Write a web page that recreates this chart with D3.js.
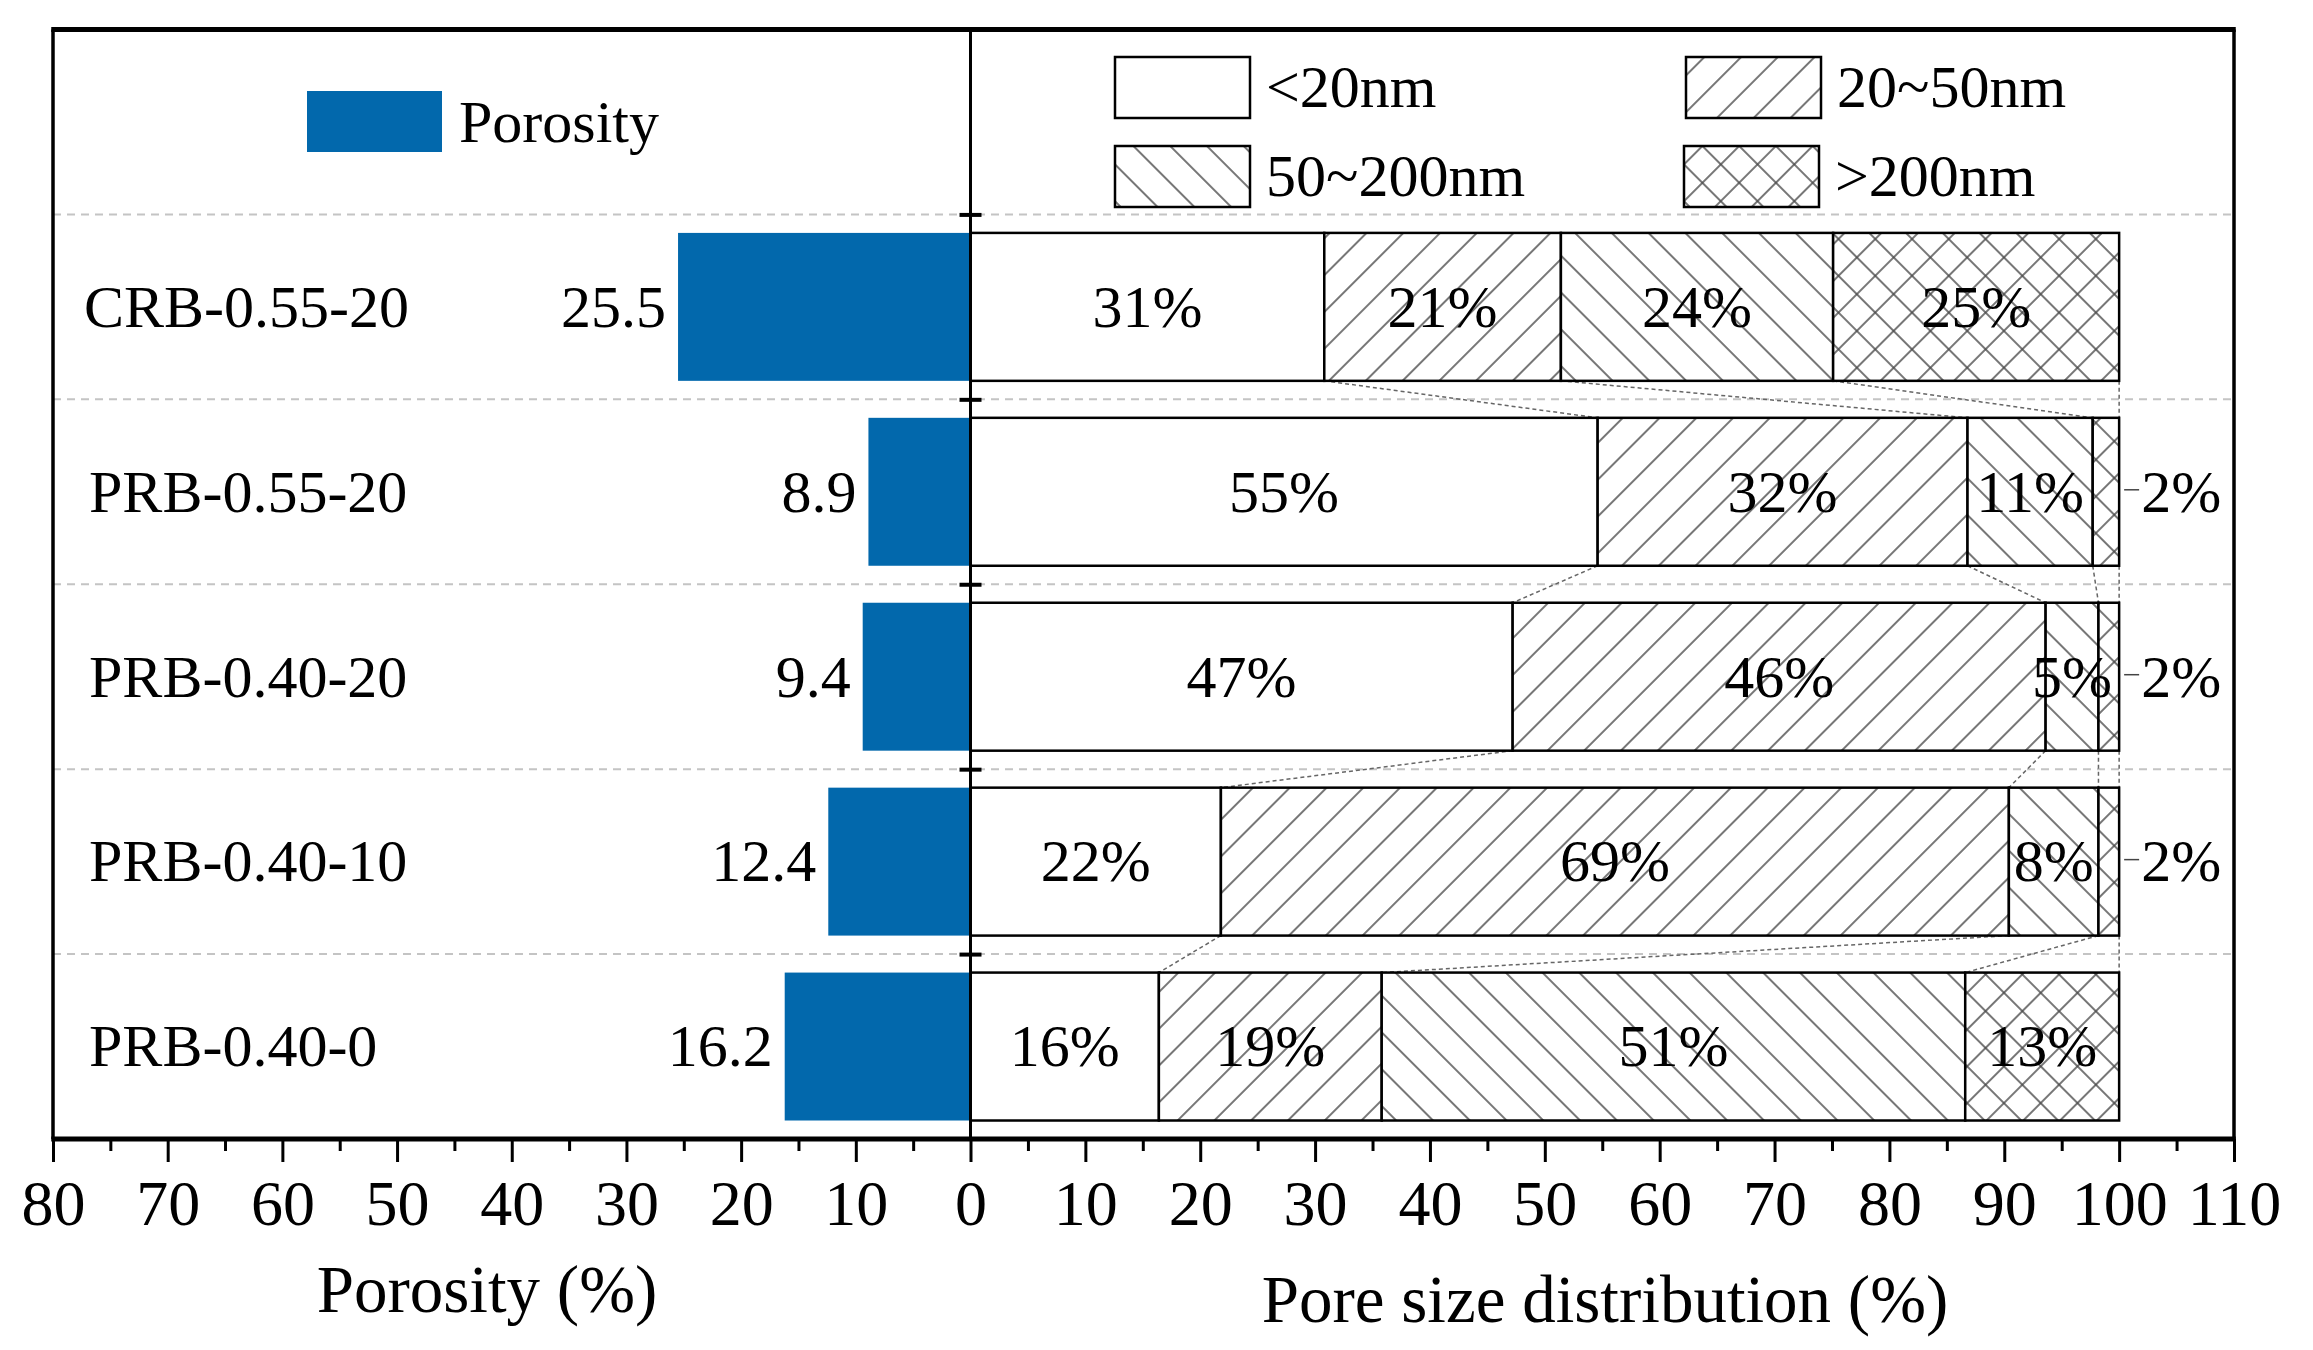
<!DOCTYPE html>
<html>
<head>
<meta charset="utf-8">
<script src="https://cdn.jsdelivr.net/npm/d3@7"></script>
<style>
	body { margin: 0; background: #fff; }
	svg text { font-family: "Liberation Serif", "Times New Roman", serif; fill: #000; }
</style>
</head>
<body>
<svg id="chart"></svg>
<script>
/* Porosity and pore size distribution, drawn with D3 */

// Data
var categories = ["CRB-0.55-20", "PRB-0.55-20", "PRB-0.40-20", "PRB-0.40-10", "PRB-0.40-0"];
var porosity = [25.5, 8.9, 9.4, 12.4, 16.2];
var poreClasses = ["<20nm", "20~50nm", "50~200nm", ">200nm"];
var below20 = [30.8, 54.6, 47.2, 21.8, 16.4];
var from20to50 = [20.6, 32.2, 46.4, 68.6, 19.4];
var from50to200 = [23.7, 10.9, 4.6, 7.8, 50.8];
var above200 = [24.9, 2.3, 1.8, 1.8, 13.4];
var leftTicks = [0, 10, 20, 30, 40, 50, 60, 70, 80];
var rightTicks = [10, 20, 30, 40, 50, 60, 70, 80, 90, 100, 110];

// Static variables for svg attributes
var svg_width = 2313, svg_height = 1350;
var frame = { left: 53, right: 2234, top: 29.5, bottom: 1139 };
var fontSize = 60, tickFont = 64, titleFont = 67;
var blue = "#0268ac";

var svg = d3.select("#chart")
	.attr("width", svg_width)
	.attr("height", svg_height);

svg.append("rect")
	.attr("width", svg_width).attr("height", svg_height)
	.attr("fill", "#fff");

// Scales: porosity grows to the left, distribution to the right
var xL = d3.scaleLinear().domain([0, 80]).range([970.5, frame.left]);
var xR = d3.scaleLinear().domain([0, 110]).range([970.5, frame.right]);

// top sixth of the frame holds the legends
var slot = (frame.bottom - frame.top) / 6;
var y = d3.scaleBand()
	.domain(categories)
	.range([frame.top + slot, frame.bottom])
	.paddingInner(0.2)
	.paddingOuter(0.1);
var gap = y.step() * y.paddingInner() / 2;

// Hatch patterns
var defs = svg.append("defs");
function hatch(id, angle, cross) {
	var p = defs.append("pattern")
		.attr("id", id)
		.attr("patternUnits", "userSpaceOnUse")
		.attr("width", 26).attr("height", 26)
		.attr("patternTransform", "rotate(" + angle + ")");
	p.append("rect").attr("width", 26).attr("height", 26).attr("fill", "#fff");
	p.append("line")
		.attr("x1", 13).attr("x2", 13).attr("y1", 0).attr("y2", 26)
		.attr("stroke", "#4a4a4a").attr("stroke-width", 1.5);
	if (cross) {
		p.append("line")
			.attr("x1", 0).attr("x2", 26).attr("y1", 13).attr("y2", 13)
			.attr("stroke", "#4a4a4a").attr("stroke-width", 1.5);
	}
}
hatch("fwd", 45, false);
hatch("back", -45, false);
hatch("cross", 45, true);
var fills = ["#fff", "url(#fwd)", "url(#back)", "url(#cross)"];

// Dashed grid lines between the rows
svg.append("g")
	.selectAll("line")
	.data(categories)
	.enter().append("line")
	.attr("x1", frame.left).attr("x2", frame.right)
	.attr("y1", function (d) { return y(d) - gap; })
	.attr("y2", function (d) { return y(d) - gap; })
	.attr("stroke", "#c4c4c4")
	.attr("stroke-width", 2)
	.attr("stroke-dasharray", "8,6");

// Porosity bars
var g = svg.append("g");
g.selectAll(".poro")
	.data(porosity)
	.enter().append("rect")
	.attr("class", "poro")
	.attr("x", function (d) { return xL(d); })
	.attr("y", function (d, i) { return y(categories[i]); })
	.attr("width", function (d) { return xL(0) - xL(d); })
	.attr("height", y.bandwidth())
	.attr("fill", blue);

g.selectAll(".poroLabel")
	.data(porosity)
	.enter().append("text")
	.attr("class", "poroLabel")
	.attr("x", function (d) { return xL(d) - 12; })
	.attr("y", function (d, i) { return y(categories[i]) + y.bandwidth() / 2 + fontSize * 0.33; })
	.attr("text-anchor", "end")
	.attr("font-size", fontSize)
	.text(function (d) { return d.toFixed(1); });

g.selectAll(".cat")
	.data(categories)
	.enter().append("text")
	.attr("class", "cat")
	.attr("x", function (d) { return d.charAt(0) == "C" ? 84 : 89; })
	.attr("y", function (d) { return y(d) + y.bandwidth() / 2 + fontSize * 0.33; })
	.attr("font-size", fontSize)
	.text(function (d) { return d; });

// Stacked pore size bars
var series = [below20, from20to50, from50to200, above200];
var stacks = categories.map(function (c, i) {
	var start = 0;
	return series.map(function (s, k) {
		var seg = { cat: c, k: k, x0: start, x1: start + s[i], v: s[i] };
		start += s[i];
		return seg;
	});
});

// Series connector lines from one bar to the next
var links = [];
for (var i = 0; i < stacks.length - 1; i++) {
	for (var k = 0; k < 4; k++) {
		links.push({ a: stacks[i][k], b: stacks[i + 1][k] });
	}
}
svg.append("g")
	.selectAll("line")
	.data(links)
	.enter().append("line")
	.attr("x1", function (d) { return xR(d.a.x1); })
	.attr("y1", function (d) { return y(d.a.cat) + y.bandwidth(); })
	.attr("x2", function (d) { return xR(d.b.x1); })
	.attr("y2", function (d) { return y(d.b.cat); })
	.attr("stroke", "#666")
	.attr("stroke-width", 1.5)
	.attr("stroke-dasharray", "4,3");

var segs = svg.append("g")
	.selectAll("g")
	.data(stacks)
	.enter().append("g");

segs.selectAll("rect")
	.data(function (d) { return d; })
	.enter().append("rect")
	.attr("x", function (d) { return xR(d.x0); })
	.attr("y", function (d) { return y(d.cat); })
	.attr("width", function (d) { return xR(d.x1) - xR(d.x0); })
	.attr("height", y.bandwidth())
	.attr("fill", function (d) { return fills[d.k]; })
	.attr("stroke", "#000")
	.attr("stroke-width", 2.5);

segs.selectAll("text")
	.data(function (d) { return d; })
	.enter().append("text")
	.attr("x", function (d) { return d.v < 3 ? xR(100) + 22 : xR((d.x0 + d.x1) / 2); })
	.attr("y", function (d) { return y(d.cat) + y.bandwidth() / 2 + fontSize * 0.33; })
	.attr("text-anchor", function (d) { return d.v < 3 ? "start" : "middle"; })
	.attr("font-size", fontSize)
	.text(function (d) { return Math.round(d.v) + "%"; });

// small leaders for the labels placed outside
segs.selectAll(".leader")
	.data(function (d) { return d.filter(function (s) { return s.v < 3; }); })
	.enter().append("line")
	.attr("class", "leader")
	.attr("x1", xR(100) + 5).attr("x2", xR(100) + 20)
	.attr("y1", function (d) { return y(d.cat) + y.bandwidth() / 2 - 2; })
	.attr("y2", function (d) { return y(d.cat) + y.bandwidth() / 2 - 2; })
	.attr("stroke", "#444")
	.attr("stroke-width", 1.5);

// Zero axis with row ticks
svg.append("line")
	.attr("x1", xL(0)).attr("x2", xL(0))
	.attr("y1", frame.top).attr("y2", frame.bottom)
	.attr("stroke", "#000").attr("stroke-width", 3);

svg.append("g")
	.attr("transform", "translate(" + (xL(0) - 11) + ",0)")
	.call(d3.axisRight(d3.scaleIdentity())
		.tickValues(categories.map(function (c) { return y(c) - gap; }))
		.tickSize(22)
		.tickFormat(""))
	.call(function (a) {
		a.select(".domain").remove();
		a.selectAll("line").attr("stroke-width", 4);
	});

// Frame: thicker top and bottom edges
var frameG = svg.append("g").attr("stroke", "#000");
frameG.append("line")
	.attr("x1", frame.left).attr("x2", frame.left)
	.attr("y1", frame.top).attr("y2", frame.bottom)
	.attr("stroke-width", 3.5);
frameG.append("line")
	.attr("x1", frame.right).attr("x2", frame.right)
	.attr("y1", frame.top).attr("y2", frame.bottom)
	.attr("stroke-width", 3.5);
frameG.append("line")
	.attr("x1", frame.left - 1.75).attr("x2", frame.right + 1.75)
	.attr("y1", frame.top).attr("y2", frame.top)
	.attr("stroke-width", 5);
frameG.append("line")
	.attr("x1", frame.left - 1.75).attr("x2", frame.right + 1.75)
	.attr("y1", frame.bottom).attr("y2", frame.bottom)
	.attr("stroke-width", 5);

// X axes
function styleAxis(a) {
	a.select(".domain").remove();
	a.selectAll("line").attr("stroke", "#000").attr("stroke-width", 3);
	a.selectAll("text")
		.attr("font-size", tickFont)
		.attr("font-family", "Liberation Serif, Times New Roman, serif")
		.attr("fill", "#000");
}
function minor(ticks) {
	return ticks.map(function (t) { return t - 5; }).filter(function (t) { return t > 0; });
}

svg.append("g")
	.attr("transform", "translate(0," + frame.bottom + ")")
	.call(d3.axisBottom(xL).tickValues(minor(leftTicks))
		.tickSize(12).tickFormat(""))
	.call(styleAxis);
svg.append("g")
	.attr("transform", "translate(0," + frame.bottom + ")")
	.call(d3.axisBottom(xR).tickValues(minor(rightTicks))
		.tickSize(12).tickFormat(""))
	.call(styleAxis);

svg.append("g")
	.attr("transform", "translate(0," + frame.bottom + ")")
	.call(d3.axisBottom(xL).tickValues(leftTicks).tickSize(23).tickPadding(18))
	.call(styleAxis);
svg.append("g")
	.attr("transform", "translate(0," + frame.bottom + ")")
	.call(d3.axisBottom(xR).tickValues(rightTicks).tickSize(23).tickPadding(18))
	.call(styleAxis);

// Axis titles
svg.append("text")
	.attr("x", 487).attr("y", 1312)
	.attr("text-anchor", "middle")
	.attr("font-size", titleFont)
	.text("Porosity (%)");
svg.append("text")
	.attr("x", 1605).attr("y", 1322)
	.attr("text-anchor", "middle")
	.attr("font-size", titleFont)
	.text("Pore size distribution (%)");

// Legends
svg.append("rect")
	.attr("x", 307).attr("y", 91)
	.attr("width", 135).attr("height", 61)
	.attr("fill", blue);
svg.append("text")
	.attr("x", 459).attr("y", 142)
	.attr("font-size", fontSize)
	.text("Porosity");

var legendPos = [[1115, 57], [1686, 57], [1115, 146], [1684, 146]];
var leg = svg.append("g")
	.selectAll("g")
	.data(poreClasses)
	.enter().append("g")
	.attr("transform", function (d, i) { return "translate(" + legendPos[i][0] + "," + legendPos[i][1] + ")"; });
leg.append("rect")
	.attr("width", 135).attr("height", 61)
	.attr("fill", function (d, i) { return fills[i]; })
	.attr("stroke", "#000")
	.attr("stroke-width", 2.5);
leg.append("text")
	.attr("x", 151).attr("y", 50)
	.attr("font-size", fontSize)
	.text(function (d) { return d; });
</script>
</body>
</html>
